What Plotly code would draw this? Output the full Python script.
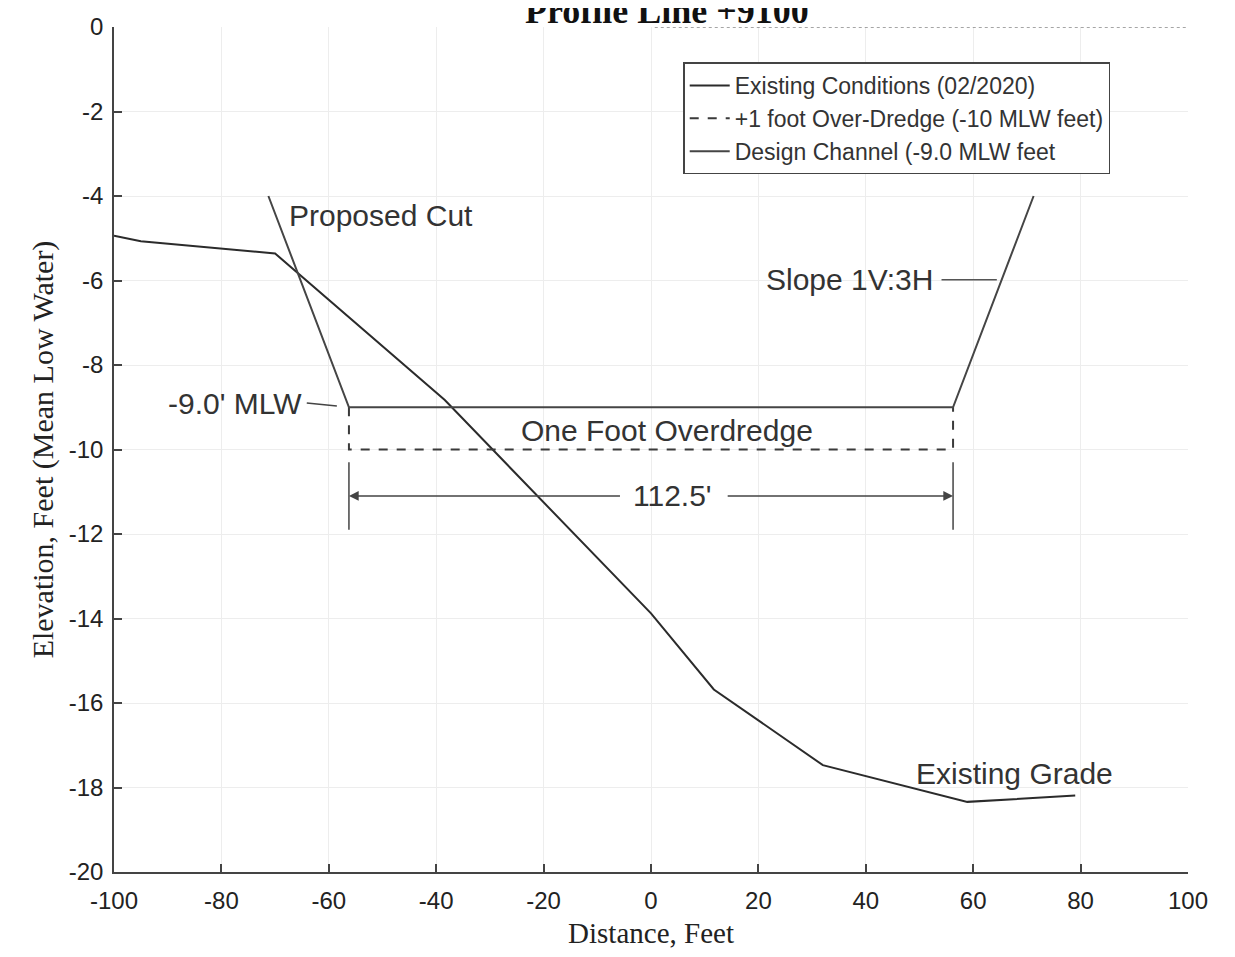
import plotly.graph_objects as go

# ---- data ----
existing_x = [-100, -95, -70, -38.4, 0, 11.7, 32, 58.9, 79]
existing_y = [-4.94, -5.07, -5.36, -8.83, -13.88, -15.68, -17.47, -18.34, -18.19]

overdredge_x = [-56.25, -56.25, 56.25, 56.25]
overdredge_y = [-9, -10, -10, -9]

design_x = [-71.25, -56.25, 56.25, 71.25]
design_y = [-4, -9, -9, -4]

x_ticks = [-100, -80, -60, -40, -20, 0, 20, 40, 60, 80, 100]
y_ticks = [0, -2, -4, -6, -8, -10, -12, -14, -16, -18, -20]

names = ["Existing Conditions (02/2020)",
         "+1 foot Over-Dredge (-10 MLW feet)",
         "Design Channel (-9.0 MLW feet"]

SANS = "Liberation Sans, Arial, sans-serif"
SERIF = "Liberation Serif, Times New Roman, serif"
INK = "#333333"

fig = go.Figure()
fig.add_trace(go.Scatter(x=existing_x, y=existing_y, mode="lines", name=names[0],
                         line=dict(color="#2b2b2b", width=2)))
fig.add_trace(go.Scatter(x=overdredge_x, y=overdredge_y, mode="lines", name=names[1],
                         line=dict(color="#3a3a3a", width=2, dash="dash")))
fig.add_trace(go.Scatter(x=design_x, y=design_y, mode="lines", name=names[2],
                         line=dict(color="#454545", width=2)))

axis_common = dict(
    showline=True, linecolor="#444444", linewidth=1.5,
    ticks="inside", ticklen=8, tickwidth=1.5, tickcolor="#444444",
    showgrid=True, gridcolor="#ededed", gridwidth=1,
    zeroline=False, mirror=False, automargin=False,
    tickfont=dict(family=SANS, size=24, color="#222222"),
)

fig.update_xaxes(range=[-100, 100], tickvals=x_ticks, ticktext=[str(v) for v in x_ticks],
                 ticklabelstandoff=6,
                 title=dict(text="Distance, Feet", font=dict(family=SERIF, size=29, color="#222222"),
                            standoff=14),
                 **axis_common)
fig.update_yaxes(range=[-20, 0], tickvals=y_ticks, ticktext=[str(v) for v in y_ticks],
                 ticklabelstandoff=4,
                 title=dict(text="Elevation, Feet (Mean Low Water)",
                            font=dict(family=SERIF, size=30, color="#222222"), standoff=6),
                 **axis_common)

half = (design_x[2] - design_x[1]) / 2  # 56.25
dim_y = -11.1

annotations = [
    dict(text="<b>Profile Line +9100</b>", xref="paper", yref="paper", x=0.515, y=1.0195,
         xanchor="center", yanchor="middle", showarrow=False,
         font=dict(family=SERIF, size=36, color="#111111")),
    dict(text="Proposed Cut", x=-67.7, y=-4.46, xanchor="left", yanchor="middle",
         showarrow=False, font=dict(family=SANS, size=30, color=INK)),
    dict(text="Slope 1V:3H", x=52.8, y=-5.98, xanchor="right", yanchor="middle",
         showarrow=False, font=dict(family=SANS, size=30, color=INK)),
    dict(text="-9.0' MLW", x=-64.6, y=-8.9, xanchor="right", yanchor="middle",
         showarrow=False, font=dict(family=SANS, size=30, color=INK)),
    dict(text="One Foot Overdredge", x=2.9, y=-9.54, xanchor="center", yanchor="middle",
         showarrow=False, font=dict(family=SANS, size=30, color=INK)),
    dict(text="112.5'", x=4.0, y=dim_y, xanchor="center", yanchor="middle",
         showarrow=False, font=dict(family=SANS, size=30, color=INK)),
    dict(text="Existing Grade", x=67.7, y=-17.68, xanchor="center", yanchor="middle",
         showarrow=False, font=dict(family=SANS, size=30, color=INK)),
    # dimension arrows
    dict(text="", x=-half, y=dim_y, ax=-5.5, ay=dim_y, axref="x", ayref="y",
         showarrow=True, arrowhead=2, arrowsize=1.3, arrowwidth=1.5, arrowcolor="#444444"),
    dict(text="", x=half, y=dim_y, ax=14.0, ay=dim_y, axref="x", ayref="y",
         showarrow=True, arrowhead=2, arrowsize=1.3, arrowwidth=1.5, arrowcolor="#444444"),
]
for a in annotations:
    if "xref" not in a:
        a["xref"] = "x"
        a["yref"] = "y"
fig.update_layout(annotations=annotations)

shapes = [
    # leader lines
    dict(type="line", x0=54.1, y0=-5.98, x1=64.4, y1=-5.98, line=dict(color="#555555", width=1.5)),
    dict(type="line", x0=-64.1, y0=-8.9, x1=-58.5, y1=-8.97, line=dict(color="#444444", width=1.5)),
    # dimension extension lines
    dict(type="line", x0=-half, y0=-10.3, x1=-half, y1=-11.9, line=dict(color="#444444", width=1.5)),
    dict(type="line", x0=half, y0=-10.3, x1=half, y1=-11.9, line=dict(color="#444444", width=1.5)),
    # partial dotted top border
    dict(type="line", x0=0.7, y0=0, x1=100, y1=0, line=dict(color="#888888", width=1.5, dash="dot")),
]
for s in shapes:
    s["xref"] = "x"
    s["yref"] = "y"
fig.update_layout(shapes=shapes)

# page body adds an 8px margin; size/margins compensate so the plot frame lands where the reference has it
fig.update_layout(
    width=1219, height=941,
    margin=dict(l=106, r=39, t=19, b=77, autoexpand=False),
    paper_bgcolor="white", plot_bgcolor="white",
    showlegend=True,
    legend=dict(x=0.53, y=0.958, xanchor="left", yanchor="top",
                bgcolor="white", bordercolor="#444444", borderwidth=1.5,
                font=dict(family=SANS, size=23, color=INK),
                tracegroupgap=2, itemwidth=40),
)

fig.write_html("out.html")
